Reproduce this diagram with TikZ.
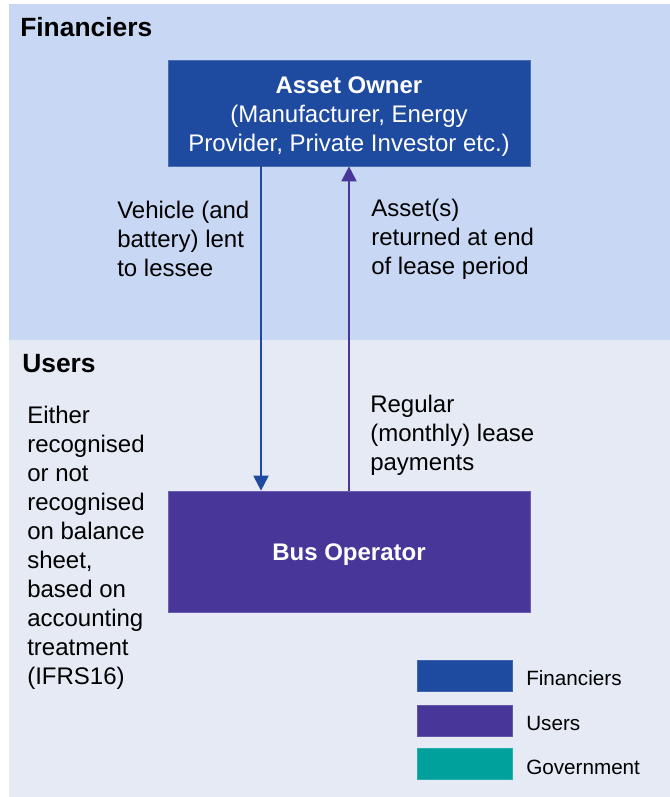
\documentclass[tikz,border=0pt]{standalone}
\usepackage{fontspec}
\setmainfont{Liberation Sans}
\usetikzlibrary{arrows.meta}

\definecolor{finblue}{RGB}{30,74,160}
\definecolor{userpurple}{RGB}{72,55,152}
\definecolor{govteal}{RGB}{0,161,157}
\definecolor{finband}{RGB}{200,216,244}
\definecolor{userband}{RGB}{230,234,244}

\tikzset{
  band/.style={fill=#1, draw=none},
  actor/.style={fill=#1, draw=#1!80!white, line width=0.5pt, inner sep=0pt},
  actortext/.style={text=white, align=center, inner sep=0pt,
    font=\fontsize{18pt}{21.75pt}\selectfont},
  heading/.style={anchor=west, inner sep=0pt, font=\fontsize{19.8pt}{23pt}\selectfont\bfseries},
  note/.style={anchor=west, align=left, inner sep=0pt, font=\fontsize{18pt}{21.75pt}\selectfont},
  flow/.style={draw=#1, line width=1.5pt, -{Triangle[width=11.25pt,length=11.25pt]}},
  swatch/.style={fill=#1, draw=#1!85!white, line width=0.5pt, minimum width=71.25pt,
    minimum height=23.5pt, inner sep=0pt, anchor=west},
  keylabel/.style={anchor=west, inner sep=0pt, font=\fontsize{15.5pt}{18pt}\selectfont}
}

\begin{document}
\begin{tikzpicture}[x=0.75pt, y=-0.75pt]
  % canvas
  \fill[white] (0,0) rectangle (670,797);
  \useasboundingbox (0,0) rectangle (670,797);

  % swim lanes
  \fill[band=finband] (9,4) rectangle (670,340);
  \fill[band=userband] (9,340) rectangle (670,797);
  \node[heading] (hfin) at (20,27) {Financiers};
  \node[heading] (husr) at (22,364) {Users};

  % actors
  \node[actor=finblue, minimum width=271.5pt, minimum height=79.5pt] (owner) at (349,113) {};
  \node[actortext] (ownertext) at (349,117)
    {\textbf{Asset Owner}\\(Manufacturer, Energy\\Provider, Private Investor etc.)};
  \node[actor=userpurple, minimum width=271.5pt, minimum height=90.75pt] (bus) at (349,551.5) {};
  \node[actortext] (bustext) at (349,555) {\textbf{Bus Operator}};

  % flows between the actors
  \coordinate (lendx) at (261,0);
  \coordinate (backx) at (349,0);
  \draw[flow=finblue] (owner.south -| lendx) -- (bus.north -| lendx);
  \draw[flow=userpurple] (bus.north -| backx) -- (owner.south -| backx);

  % flow labels
  \node[note] (lend) at (117,239) {Vehicle (and\\battery) lent\\to lessee};
  \node[note] (ret) at (371,239) {Asset(s)\\returned at end\\of lease period};
  \node[note] (pay) at (370,435) {Regular\\(monthly) lease\\payments};
  \node[note] (acct) at (27,548) {Either\\recognised\\or not\\recognised\\on balance\\sheet,\\based on\\accounting\\treatment\\(IFRS16)};

  % legend
  \node[swatch=finblue] (kfin) at (417,675.5) {};
  \node[swatch=userpurple] (kusr) at (417,721) {};
  \node[swatch=govteal] (kgov) at (417,763.5) {};
  \node[keylabel] (lfin) at (526,678) {Financiers};
  \node[keylabel] (lusr) at (526,723) {Users};
  \node[keylabel] (lgov) at (526,767) {Government};
\end{tikzpicture}
\end{document}
